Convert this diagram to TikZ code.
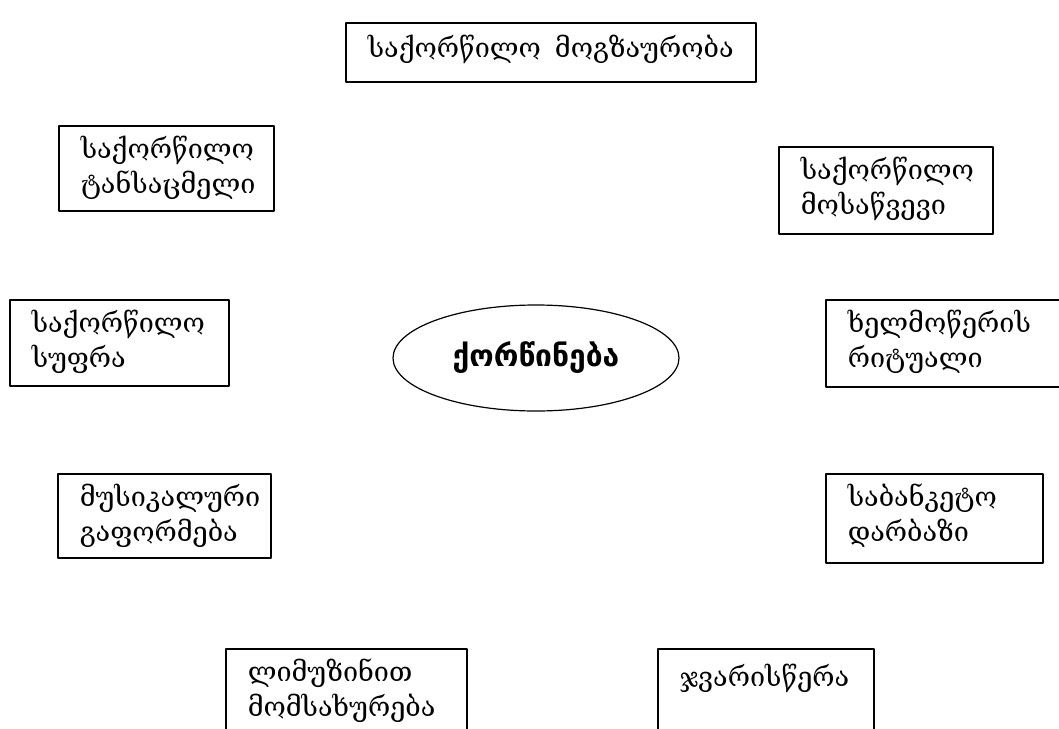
\documentclass[tikz,border=0pt]{standalone}
\usepackage{fontspec}
\setmainfont{DejaVu Serif}
\newfontfamily\capsfont{DejaVu Sans}
\usetikzlibrary{shapes.geometric}
\begin{document}
\begin{tikzpicture}[x=1pt,y=-1pt,line join=round,
	topic/.style={draw,line width=1.5pt,anchor=north west,align=left,
		inner xsep=22pt,inner ysep=0pt,text height=33pt,
		font=\fontsize{27}{35}\selectfont},
	]
	\useasboundingbox (0,0) rectangle (1059,728);
	\node[topic,text width=366pt,text depth=24pt,text height=35pt] (trip) at (345,22) {\mbox{საქორწილო\hspace{14pt}მოგზაურობა}};
	\node[topic,text width=171pt,text depth=52pt] (dress) at (58,125) {საქორწილო\\ტანსაცმელი};
	\node[topic,text width=170pt,text depth=54pt] (invite) at (778,146) {საქორწილო\\მოსაწვევი};
	\node[topic,text width=175pt,text depth=53pt] (table) at (9,299) {საქორწილო\\სუფრა};
	\node[topic,text width=201pt,text depth=54pt] (sign) at (825,299) {ხელმოწერის\\რიტუალი};
	\node[topic,text width=169pt,text depth=51pt] (music) at (57,473) {მუსიკალური\\გაფორმება};
	\node[topic,text width=173pt,text depth=56pt] (hall) at (825,473) {საბანკეტო\\დარბაზი};
	\node[topic,text width=197pt,text depth=67pt] (limo) at (225,648) {ლიმუზინით\\მომსახურება};
	\node[topic,text width=172pt,text depth=67pt,text height=38pt] (cross) at (657,648) {ჯვარისწერა};
	\node[draw,ellipse,line width=1.2pt,minimum width=286pt,minimum height=106pt,
		font=\capsfont\bfseries\fontsize{30}{34}\selectfont] (wedding) at (536,358) {ქორწინება};
\end{tikzpicture}
\end{document}
